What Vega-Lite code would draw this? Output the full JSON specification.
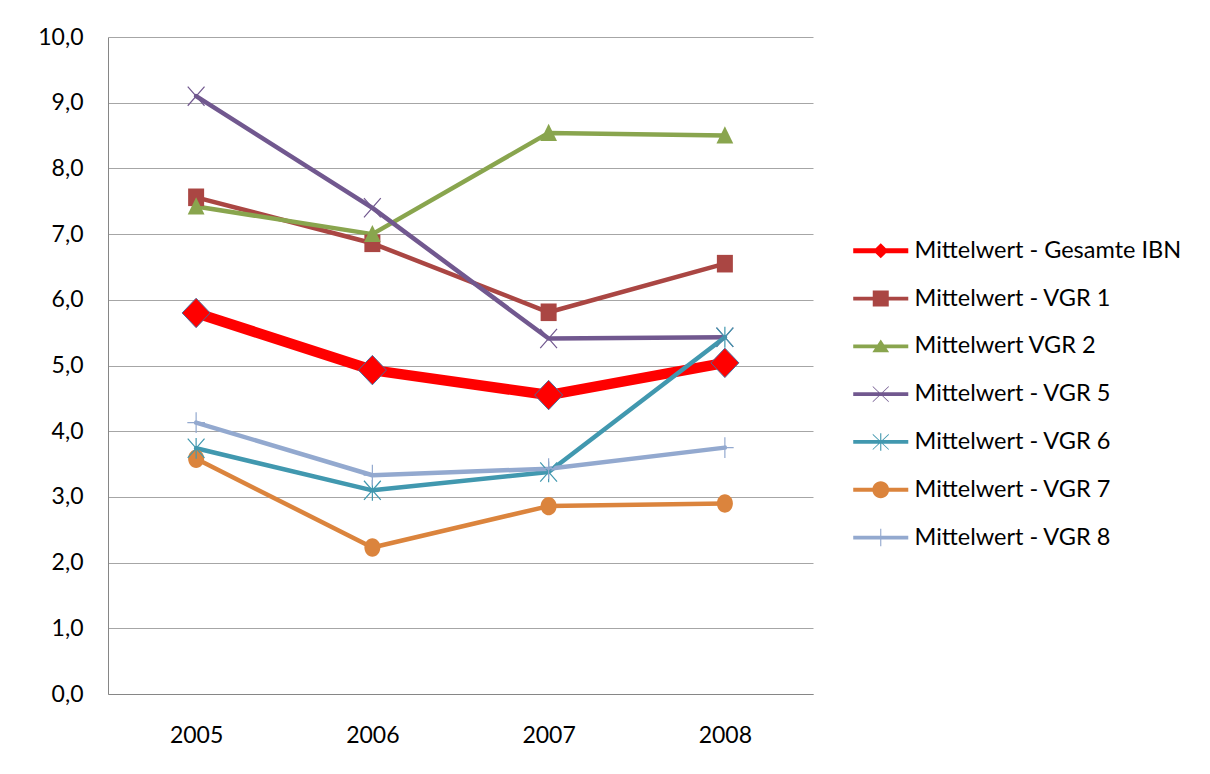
{
  "$schema": "https://vega.github.io/schema/vega-lite/v6.json",
  "width": 705,
  "height": 657,
  "autosize": {"type": "none"},
  "padding": {"left": 108, "top": 37, "right": 397, "bottom": 80},
  "background": "white",
  "config": {
    "font": "Lato",
    "view": {"stroke": null},
    "axis": {"domainColor": "#868686", "gridColor": "#a6a6a6", "labelColor": "#000000", "labelFont": "Lato", "labelFontSize": 23, "ticks": false, "title": null}
  },
  "data": {
    "values": [
      {"series": "Mittelwert - Gesamte IBN", "year": "2005", "value": 5.80},
      {"series": "Mittelwert - Gesamte IBN", "year": "2006", "value": 4.93},
      {"series": "Mittelwert - Gesamte IBN", "year": "2007", "value": 4.55},
      {"series": "Mittelwert - Gesamte IBN", "year": "2008", "value": 5.04},
      {"series": "Mittelwert - VGR 1", "year": "2005", "value": 7.56},
      {"series": "Mittelwert - VGR 1", "year": "2006", "value": 6.86},
      {"series": "Mittelwert - VGR 1", "year": "2007", "value": 5.81},
      {"series": "Mittelwert - VGR 1", "year": "2008", "value": 6.55},
      {"series": "Mittelwert VGR 2", "year": "2005", "value": 7.42},
      {"series": "Mittelwert VGR 2", "year": "2006", "value": 7.00},
      {"series": "Mittelwert VGR 2", "year": "2007", "value": 8.54},
      {"series": "Mittelwert VGR 2", "year": "2008", "value": 8.50},
      {"series": "Mittelwert - VGR 5", "year": "2005", "value": 9.10},
      {"series": "Mittelwert - VGR 5", "year": "2006", "value": 7.40},
      {"series": "Mittelwert - VGR 5", "year": "2007", "value": 5.41},
      {"series": "Mittelwert - VGR 5", "year": "2008", "value": 5.43},
      {"series": "Mittelwert - VGR 6", "year": "2005", "value": 3.74},
      {"series": "Mittelwert - VGR 6", "year": "2006", "value": 3.10},
      {"series": "Mittelwert - VGR 6", "year": "2007", "value": 3.38},
      {"series": "Mittelwert - VGR 6", "year": "2008", "value": 5.43},
      {"series": "Mittelwert - VGR 7", "year": "2005", "value": 3.58},
      {"series": "Mittelwert - VGR 7", "year": "2006", "value": 2.23},
      {"series": "Mittelwert - VGR 7", "year": "2007", "value": 2.86},
      {"series": "Mittelwert - VGR 7", "year": "2008", "value": 2.90},
      {"series": "Mittelwert - VGR 8", "year": "2005", "value": 4.13},
      {"series": "Mittelwert - VGR 8", "year": "2006", "value": 3.33},
      {"series": "Mittelwert - VGR 8", "year": "2007", "value": 3.43},
      {"series": "Mittelwert - VGR 8", "year": "2008", "value": 3.75}
    ]
  },
  "encoding": {
    "x": {
      "field": "year", "type": "ordinal",
      "scale": {"type": "point", "padding": 0.5},
      "axis": {"labelAngle": 0, "labelPadding": 30, "grid": false, "domain": true}
    },
    "y": {
      "field": "value", "type": "quantitative",
      "scale": {"domain": [0, 10], "nice": false, "zero": true},
      "axis": {"values": [0, 1, 2, 3, 4, 5, 6, 7, 8, 9, 10], "grid": true, "domain": true, "labelPadding": 25, "labelExpr": "replace(format(datum.value, '.1f'), '.', ',')"}
    }
  },
  "resolve": {"scale": {"shape": "independent", "color": "independent"}},
  "layer": [
    {
      "mark": {"type": "line", "strokeJoin": "round", "strokeCap": "round"},
      "encoding": {
        "stroke": {
          "field": "series", "type": "nominal", "legend": null,
          "scale": {
            "domain": ["Mittelwert - Gesamte IBN", "Mittelwert - VGR 1", "Mittelwert VGR 2", "Mittelwert - VGR 5", "Mittelwert - VGR 6", "Mittelwert - VGR 7", "Mittelwert - VGR 8"],
            "range": ["#ff0000", "#aa4643", "#89a54e", "#71588f", "#4198af", "#db843d", "#93a9cf"]
          }
        },
        "strokeWidth": {
          "condition": {"test": "datum.series === 'Mittelwert - Gesamte IBN'", "value": 10.5},
          "value": 4.5
        }
      }
    },
    {
      "transform": [{"filter": {"field": "series", "oneOf": ["Mittelwert - Gesamte IBN", "Mittelwert - VGR 1", "Mittelwert VGR 2", "Mittelwert - VGR 7"]}}],
      "mark": {"type": "point", "filled": true, "opacity": 1},
      "encoding": {
        "shape": {
          "field": "series", "type": "nominal", "legend": null,
          "scale": {
            "domain": ["Mittelwert - Gesamte IBN", "Mittelwert - VGR 1", "Mittelwert VGR 2", "Mittelwert - VGR 5", "Mittelwert - VGR 6", "Mittelwert - VGR 7", "Mittelwert - VGR 8"],
            "range": ["M0,-1.05L1,0L0,1.05L-1,0Z", "M-1,-1.1H1V1.1H-1Z", "M0,-1.15L1.05,1H-1.05Z", "M-1.05,-1.2L1.05,1.2M-1.05,1.2L1.05,-1.2", "M-1.05,-1.2L1.05,1.2M-1.05,1.2L1.05,-1.2M0,-1.3V1.3", "M-1,0A1,1.15 0 1,1 1,0A1,1.15 0 1,1 -1,0Z", "M-1.1,0H1.1M0,-1.3V1.3"]
          }
        },
        "fill": {
          "field": "series", "type": "nominal", "legend": null,
          "scale": {
            "domain": ["Mittelwert - Gesamte IBN", "Mittelwert - VGR 1", "Mittelwert VGR 2", "Mittelwert - VGR 5", "Mittelwert - VGR 6", "Mittelwert - VGR 7", "Mittelwert - VGR 8"],
            "range": ["#ff0000", "#aa4643", "#89a54e", "#71588f", "#4198af", "#db843d", "#93a9cf"]
          }
        },
        "size": {
          "condition": {"test": "datum.series === 'Mittelwert - Gesamte IBN'", "value": 784},
          "value": 256
        },
        "stroke": {
          "condition": {"test": "datum.series === 'Mittelwert - Gesamte IBN'", "value": "#4a6a9a"},
          "value": null
        },
        "strokeWidth": {"value": 1}
      }
    },
    {
      "transform": [{"filter": {"field": "series", "oneOf": ["Mittelwert - VGR 5", "Mittelwert - VGR 6", "Mittelwert - VGR 8"]}}],
      "mark": {"type": "point", "filled": false, "opacity": 1, "strokeWidth": 1.2},
      "encoding": {
        "shape": {
          "field": "series", "type": "nominal", "legend": null,
          "scale": {
            "domain": ["Mittelwert - Gesamte IBN", "Mittelwert - VGR 1", "Mittelwert VGR 2", "Mittelwert - VGR 5", "Mittelwert - VGR 6", "Mittelwert - VGR 7", "Mittelwert - VGR 8"],
            "range": ["M0,-1.05L1,0L0,1.05L-1,0Z", "M-1,-1.1H1V1.1H-1Z", "M0,-1.15L1.05,1H-1.05Z", "M-1.05,-1.2L1.05,1.2M-1.05,1.2L1.05,-1.2", "M-1.05,-1.2L1.05,1.2M-1.05,1.2L1.05,-1.2M0,-1.3V1.3", "M-1,0A1,1.15 0 1,1 1,0A1,1.15 0 1,1 -1,0Z", "M-1.1,0H1.1M0,-1.3V1.3"]
          }
        },
        "stroke": {"field": "series", "type": "nominal", "legend": null},
        "size": {"value": 256}
      }
    },
    {
      "transform": [{"filter": "false"}],
      "mark": {"type": "point", "filled": true, "opacity": 1},
      "encoding": {
        "color": {
          "field": "series", "type": "nominal",
          "scale": {
            "domain": ["Mittelwert - Gesamte IBN", "Mittelwert - VGR 1", "Mittelwert VGR 2", "Mittelwert - VGR 5", "Mittelwert - VGR 6", "Mittelwert - VGR 7", "Mittelwert - VGR 8"],
            "range": ["#ff0000", "#aa4643", "#89a54e", "#71588f", "#4198af", "#db843d", "#93a9cf"]
          },
          "legend": {
            "orient": "none", "legendX": 761, "legendY": 202, "padding": 0, "title": null,
            "symbolSize": 256, "symbolStrokeWidth": 0, "symbolOpacity": 1,
            "labelFont": "Lato", "labelFontSize": 23.5, "labelColor": "#000000", "labelLimit": 400,
            "labelOffset": 22, "rowPadding": 22.8
          }
        },
        "shape": {
          "field": "series", "type": "nominal",
          "scale": {
            "domain": ["Mittelwert - Gesamte IBN", "Mittelwert - VGR 1", "Mittelwert VGR 2", "Mittelwert - VGR 5", "Mittelwert - VGR 6", "Mittelwert - VGR 7", "Mittelwert - VGR 8"],
            "range": [
              "M-3.44,-0.3H3.44V0.3H-3.44ZM0,-0.95L0.95,0L0,0.95L-0.95,0Z",
              "M-3.44,-0.24H3.44V0.24H-3.44ZM-1,-1H1V1H-1Z",
              "M-3.44,-0.24H3.44V0.24H-3.44ZM0,-0.85L1.05,0.75H-1.05Z",
              "M-3.44,-0.24H3.44V0.24H-3.44ZM-1,-1.02L1,0.88L1,1.02L-1,-0.88ZM-1,0.88L1,-1.02L1,-0.88L-1,1.02Z",
              "M-3.44,-0.24H3.44V0.24H-3.44ZM-1,-1.02L1,0.88L1,1.02L-1,-0.88ZM-1,0.88L1,-1.02L1,-0.88L-1,1.02ZM-0.07,-1.1H0.07V1.1H-0.07Z",
              "M-3.44,-0.24H3.44V0.24H-3.44ZM-1.05,0A1.05,1.05 0 1,1 1.05,0A1.05,1.05 0 1,1 -1.05,0Z",
              "M-3.44,-0.24H3.44V0.24H-3.44ZM-0.07,-1.1H0.07V1.1H-0.07Z"
            ]
          },
          "legend": {
            "orient": "none", "legendX": 761, "legendY": 202, "padding": 0, "title": null,
            "symbolSize": 256, "symbolStrokeWidth": 0, "symbolOpacity": 1,
            "labelFont": "Lato", "labelFontSize": 23.5, "labelColor": "#000000", "labelLimit": 400,
            "labelOffset": 22, "rowPadding": 22.8
          }
        }
      }
    }
  ]
}
